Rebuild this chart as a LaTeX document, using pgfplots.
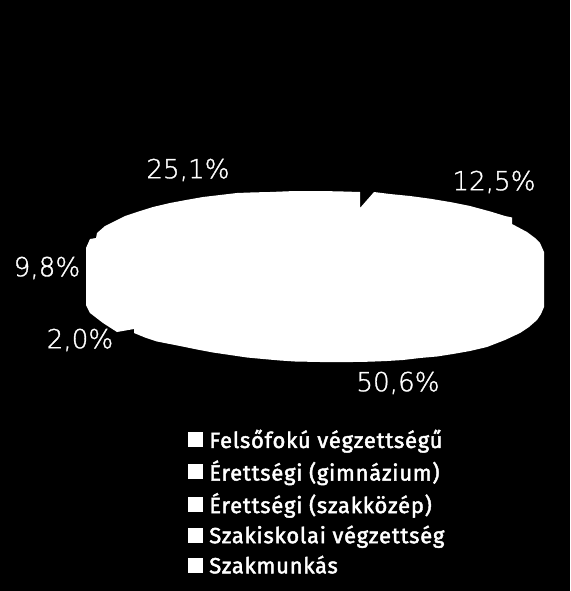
\documentclass[border=0pt]{standalone}
\usepackage{fontspec}
\usepackage{pgfplots}
\pgfplotsset{compat=1.18}
\setmainfont{Fira Sans}
\newfontfamily\legfont[LetterSpace=3.4,FakeBold=2]{Fira Sans}
\newfontfamily\labfont[FakeBold=1.2]{DejaVu Sans ExtraLight}
\newcommand{\entry}[1]{\hspace*{6pt}#1}
\begin{document}
\begin{tikzpicture}
\fill[black] (0,0) rectangle (570pt,591pt);
\begin{axis}[
    width=570pt,height=591pt,scale only axis,
    xmin=0,xmax=570,ymin=0,ymax=591,y dir=reverse,
    hide axis,
    legend cell align=left,
    legend style={at={(0.33,0.275)},anchor=north west,draw=none,fill=none,
      text=white,font=\legfont\fontsize{22}{22}\selectfont,row sep=9pt,inner sep=0pt,
      nodes={inner sep=1pt}},
    ]
  % outline of the pie, in picture pixels
  \addplot[fill=white,draw=none,forget plot] coordinates {
    (360,192) (360,208) (374,192) (390,194) (410,196) (430,198.7) (450,202)
    (470,206) (490,211.4) (505,216) (512,217.5) (512,224) (527,232) (535,238)
    (540,243) (544,252) (544,307) (541,314) (537,320) (529,327) (520,333)
    (505,340) (487,347) (470,351) (453,354) (437,356.5) (420,358) (403,360)
    (387,361) (370,361.7) (353,362) (320,362) (295,361.5) (280,360.5) (263,359)
    (247,357.5) (230,355) (213,352.5) (197,349.5) (180,346) (157,341.5)
    (145,337.5) (134,333)
    (134,329) (117,332) (103,323) (90,313) (86,305) (86,248) (90,239) (96,238)
    (97,233) (105,226) (113,222) (125,216) (137,212) (153,207) (170,203)
    (186,200) (203,197) (220,195) (237,193) (253,192.4) (270,192) (295,191)
    (320,191) (340,191.4)
  } -- cycle;
  % data labels
  \addplot[only marks,mark=none,forget plot,point meta=explicit symbolic,
    nodes near coords,
    every node near coord/.style={anchor=center,text=white,inner sep=0pt,
      font=\labfont\fontsize{26.2}{26}\selectfont}]
    coordinates {
      (188,170) [25,1\%]
      (494,182) [12,5\%]
      (47,268) [9,8\%]
      (80,340) [2,0\%]
      (398,383) [50,6\%]
    };
  \addlegendimage{only marks,mark=square*,mark size=7pt,white}
  \addlegendentry{\entry{Felsőfokú végzettségű}}
  \addlegendimage{only marks,mark=square*,mark size=7pt,white}
  \addlegendentry{\entry{Érettségi (gimnázium)}}
  \addlegendimage{only marks,mark=square*,mark size=7pt,white}
  \addlegendentry{\entry{Érettségi (szakközép)}}
  \addlegendimage{only marks,mark=square*,mark size=7pt,white}
  \addlegendentry{\entry{Szakiskolai végzettség}}
  \addlegendimage{only marks,mark=square*,mark size=7pt,white}
  \addlegendentry{\entry{Szakmunkás}}
\end{axis}
\end{tikzpicture}
\end{document}
